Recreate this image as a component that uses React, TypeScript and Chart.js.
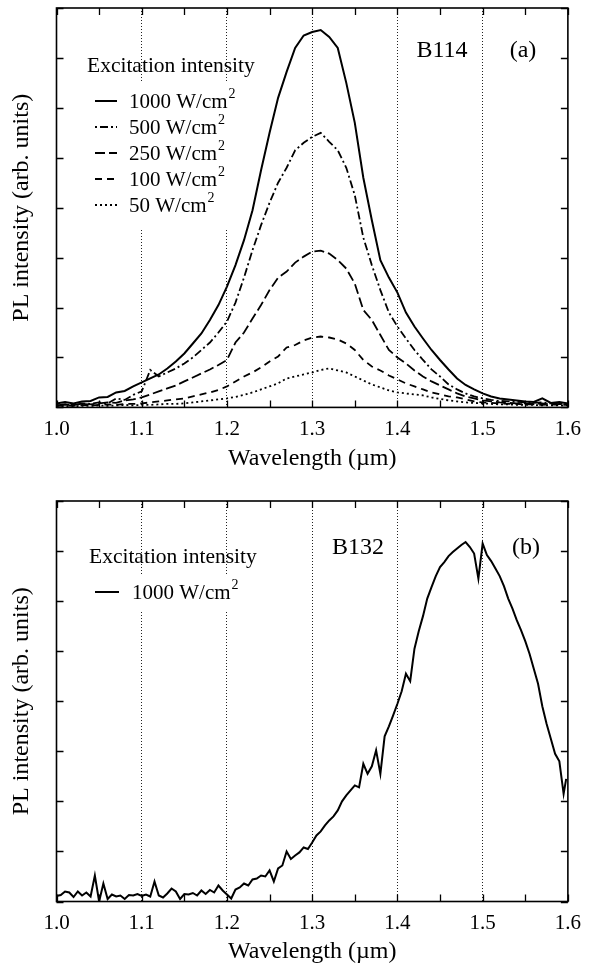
import React, { useEffect, useRef } from 'react';
import { Chart, registerables } from 'chart.js';

Chart.register(...registerables);

const FONT = "'Liberation Serif', 'Times New Roman', Times, serif";

// ---------- Panel (a): B114 ----------
const wavelengthA = [
  1.00, 1.01, 1.02, 1.03, 1.04, 1.05, 1.06, 1.07, 1.08, 1.09,
  1.10, 1.11, 1.12, 1.13, 1.14, 1.15, 1.16, 1.17, 1.18, 1.19,
  1.20, 1.21, 1.22, 1.23, 1.24, 1.25, 1.26, 1.27, 1.28, 1.29,
  1.30, 1.31, 1.32, 1.33, 1.34, 1.35, 1.36, 1.37, 1.38, 1.39,
  1.40, 1.41, 1.42, 1.43, 1.44, 1.45, 1.46, 1.47, 1.48, 1.49,
  1.50, 1.51, 1.52, 1.53, 1.54, 1.55, 1.56, 1.57, 1.58, 1.59,
  1.60,
];
const pl1000A = [
  0.08, 0.11, 0.08, 0.12, 0.13, 0.20, 0.21, 0.30, 0.33, 0.42,
  0.50, 0.58, 0.66, 0.78, 0.92, 1.08, 1.28, 1.48, 1.75, 2.05,
  2.42, 2.85, 3.35, 3.95, 4.75, 5.50, 6.20, 6.72, 7.20, 7.45,
  7.52, 7.56, 7.42, 7.20, 6.50, 5.70, 4.60, 3.75, 2.95, 2.60,
  2.30, 1.90, 1.62, 1.38, 1.15, 0.95, 0.76, 0.58, 0.45, 0.36,
  0.28, 0.22, 0.18, 0.16, 0.14, 0.12, 0.11, 0.18, 0.09, 0.11,
  0.08,
];
const pl500A = [
  0.05, 0.06, 0.04, 0.08, 0.07, 0.10, 0.08, 0.18, 0.15, 0.25,
  0.32, 0.75, 0.62, 0.70, 0.78, 0.88, 1.00, 1.15, 1.30, 1.50,
  1.72, 2.10, 2.60, 3.15, 3.65, 4.10, 4.50, 4.80, 5.15, 5.30,
  5.42, 5.50, 5.32, 5.15, 4.80, 4.25, 3.40, 2.85, 2.35, 1.90,
  1.62, 1.38, 1.15, 0.95, 0.76, 0.62, 0.46, 0.36, 0.28, 0.22,
  0.18, 0.15, 0.13, 0.12, 0.11, 0.10, 0.09, 0.10, 0.08, 0.09,
  0.07,
];
const pl250A = [
  0.04, 0.06, 0.05, 0.07, 0.06, 0.08, 0.10, 0.09, 0.14, 0.16,
  0.20, 0.26, 0.32, 0.38, 0.44, 0.52, 0.60, 0.68, 0.76, 0.85,
  0.95, 1.30, 1.50, 1.78, 2.05, 2.35, 2.60, 2.72, 2.90, 3.02,
  3.12, 3.14, 3.08, 2.95, 2.78, 2.48, 1.95, 1.75, 1.45, 1.15,
  1.00, 0.88, 0.74, 0.62, 0.52, 0.44, 0.36, 0.28, 0.22, 0.18,
  0.14, 0.12, 0.10, 0.09, 0.08, 0.08, 0.07, 0.08, 0.06, 0.07,
  0.06,
];
const pl100A = [
  0.03, 0.04, 0.03, 0.05, 0.04, 0.05, 0.06, 0.05, 0.07, 0.07,
  0.08, 0.10, 0.12, 0.14, 0.16, 0.18, 0.22, 0.26, 0.30, 0.35,
  0.42, 0.52, 0.62, 0.70, 0.80, 0.92, 1.02, 1.20, 1.25, 1.34,
  1.40, 1.42, 1.40, 1.36, 1.28, 1.15, 0.95, 0.82, 0.74, 0.64,
  0.56, 0.48, 0.42, 0.36, 0.30, 0.26, 0.22, 0.20, 0.16, 0.12,
  0.10, 0.09, 0.08, 0.07, 0.07, 0.06, 0.06, 0.05, 0.06, 0.05,
  0.05,
];
const pl50A = [
  0.02, 0.03, 0.02, 0.03, 0.03, 0.04, 0.03, 0.04, 0.05, 0.04,
  0.05, 0.05, 0.06, 0.07, 0.07, 0.08, 0.10, 0.12, 0.14, 0.16,
  0.18, 0.21, 0.25, 0.30, 0.36, 0.42, 0.48, 0.58, 0.62, 0.66,
  0.70, 0.75, 0.78, 0.74, 0.70, 0.62, 0.54, 0.46, 0.40, 0.34,
  0.30, 0.28, 0.26, 0.24, 0.20, 0.17, 0.14, 0.12, 0.10, 0.09,
  0.08, 0.07, 0.06, 0.06, 0.05, 0.05, 0.05, 0.04, 0.04, 0.04,
  0.04,
];
const intensityLabelsA = ['1000 W/cm', '500 W/cm', '250 W/cm', '100 W/cm', '50 W/cm'];

// ---------- Panel (b): B132 ----------
const wavelengthB = [
  1.000, 1.005, 1.010, 1.015, 1.020, 1.025, 1.030, 1.035, 1.040, 1.045,
  1.050, 1.055, 1.060, 1.065, 1.070, 1.075, 1.080, 1.085, 1.090, 1.095,
  1.100, 1.105, 1.110, 1.115, 1.120, 1.125, 1.130, 1.135, 1.140, 1.145,
  1.150, 1.155, 1.160, 1.165, 1.170, 1.175, 1.180, 1.185, 1.190, 1.195,
  1.200, 1.205, 1.210, 1.215, 1.220, 1.225, 1.230, 1.235, 1.240, 1.245,
  1.250, 1.255, 1.260, 1.265, 1.270, 1.275, 1.280, 1.285, 1.290, 1.295,
  1.300, 1.305, 1.310, 1.315, 1.320, 1.325, 1.330, 1.335, 1.340, 1.345,
  1.350, 1.355, 1.360, 1.365, 1.370, 1.375, 1.380, 1.385, 1.390, 1.395,
  1.400, 1.405, 1.410, 1.415, 1.420, 1.425, 1.430, 1.435, 1.440, 1.445,
  1.450, 1.455, 1.460, 1.465, 1.470, 1.475, 1.480, 1.485, 1.490, 1.495,
  1.500, 1.505, 1.510, 1.515, 1.520, 1.525, 1.530, 1.535, 1.540, 1.545,
  1.550, 1.555, 1.560, 1.565, 1.570, 1.575, 1.580, 1.585, 1.590, 1.595,
  1.598,
];
const pl1000B = [
  0.11, 0.13, 0.20, 0.18, 0.09, 0.20, 0.12, 0.18, 0.10, 0.52,
  0.00, 0.36, 0.05, 0.14, 0.10, 0.12, 0.05, 0.13, 0.12, 0.15,
  0.11, 0.14, 0.10, 0.40, 0.12, 0.08, 0.16, 0.26, 0.20, 0.05,
  0.15, 0.14, 0.17, 0.12, 0.22, 0.15, 0.23, 0.18, 0.32, 0.22,
  0.14, 0.06, 0.24, 0.28, 0.36, 0.32, 0.44, 0.46, 0.52, 0.50,
  0.62, 0.40, 0.66, 0.72, 1.00, 0.85, 0.92, 0.98, 1.08, 1.05,
  1.18, 1.32, 1.40, 1.52, 1.62, 1.70, 1.82, 2.00, 2.12, 2.22,
  2.32, 2.28, 2.75, 2.55, 2.70, 3.02, 2.55, 3.30, 3.50, 3.72,
  3.95, 4.20, 4.55, 4.40, 5.05, 5.40, 5.70, 6.05, 6.28, 6.50,
  6.68, 6.78, 6.90, 6.98, 7.05, 7.12, 7.18, 7.08, 6.95, 6.45,
  7.15, 6.92, 6.80, 6.65, 6.50, 6.30, 6.05, 5.85, 5.62, 5.42,
  5.20, 4.95, 4.65, 4.35, 3.90, 3.55, 3.25, 2.95, 2.80, 2.15,
  2.45,
];
const intensityLabelsB = ['1000 W/cm'];

// ---------- Axes ----------
const xTickValues = [1.0, 1.1, 1.2, 1.3, 1.4, 1.5, 1.6];
const xTickLabels = ['1.0', '1.1', '1.2', '1.3', '1.4', '1.5', '1.6'];
const xTitle = 'Wavelength (\u00b5m)';
const yTitle = 'PL intensity (arb. units)';
const legendHeading = 'Excitation intensity';

const DASHES: number[][] = [[], [2, 3, 8, 3], [10, 4], [7, 5], [2, 3]];

type Decor = {
  headingX: number; headingY: number;
  rowX0: number; rowX1: number; textX: number; rowY0: number; rowGap: number;
  labels: string[];
  mask: [number, number, number, number];
  sample: string; sampleX: number; sampleY: number;
  tag: string; tagX: number; tagY: number;
};

function makeDecor(d: Decor) {
  return {
    id: 'decor',
    beforeDatasetsDraw(chart: any) {
      const ctx = chart.ctx as CanvasRenderingContext2D;
      ctx.save();
      ctx.fillStyle = '#fff';
      ctx.fillRect(d.mask[0], d.mask[1], d.mask[2], d.mask[3]);
      ctx.restore();
    },
    afterDatasetsDraw(chart: any) {
      const ctx = chart.ctx as CanvasRenderingContext2D;
      const a = chart.chartArea;
      const x = chart.scales.x;
      const y = chart.scales.y;
      ctx.save();
      // inward ticks
      ctx.strokeStyle = '#000';
      ctx.lineWidth = 1.3;
      ctx.setLineDash([]);
      ctx.beginPath();
      x.ticks.forEach((t: any) => {
        const px = Math.round(x.getPixelForValue(t.value)) + 0.5;
        ctx.moveTo(px, a.bottom); ctx.lineTo(px, a.bottom - 7);
        ctx.moveTo(px, a.top); ctx.lineTo(px, a.top + 7);
      });
      y.ticks.forEach((t: any) => {
        const py = Math.round(y.getPixelForValue(t.value)) + 0.5;
        ctx.moveTo(a.left, py); ctx.lineTo(a.left + 7, py);
        ctx.moveTo(a.right, py); ctx.lineTo(a.right - 7, py);
      });
      ctx.stroke();
      ctx.lineWidth = 1.6;
      ctx.strokeRect(a.left, a.top, a.right - a.left, a.bottom - a.top);

      // texts
      ctx.fillStyle = '#000';
      ctx.textBaseline = 'middle';
      ctx.textAlign = 'left';
      ctx.font = `21.5px ${FONT}`;
      ctx.fillText(legendHeading, d.headingX, d.headingY);
      d.labels.forEach((lab, i) => {
        const ry = d.rowY0 + i * d.rowGap;
        ctx.save();
        ctx.lineWidth = 2;
        ctx.setLineDash(DASHES[i]);
        ctx.beginPath();
        ctx.moveTo(d.rowX0, ry);
        ctx.lineTo(d.rowX1, ry);
        ctx.stroke();
        ctx.restore();
        ctx.font = `21px ${FONT}`;
        ctx.textBaseline = 'alphabetic';
        ctx.fillText(lab, d.textX, ry + 7);
        const w = ctx.measureText(lab).width;
        ctx.font = `14px ${FONT}`;
        ctx.fillText('2', d.textX + w + 1, ry - 3);
      });
      ctx.font = `24px ${FONT}`;
      ctx.textAlign = 'center';
      ctx.textBaseline = 'middle';
      ctx.fillText(d.sample, d.sampleX, d.sampleY);
      ctx.fillText(d.tag, d.tagX, d.tagY);
      ctx.restore();
    },
  };
}

function makeConfig(
  xs: number[], series: number[][], decor: Decor,
  padTop: number, xAxisHeight: number, xTitlePad: number,
) {
  const datasets = series.map((vals, i) => ({
    label: decor.labels[i] || '',
    data: xs.map((w, k) => ({ x: w, y: vals[k] })),
    borderColor: '#000',
    borderWidth: i === 0 ? 2 : 1.8,
    borderDash: DASHES[i],
    pointRadius: 0,
    tension: 0,
    fill: false,
  }));
  return {
    type: 'line' as const,
    data: { datasets },
    options: {
      responsive: false,
      devicePixelRatio: 1,
      animation: false as const,
      layout: { padding: { top: padTop, right: 16, left: 0, bottom: 0 } },
      plugins: { legend: { display: false }, tooltip: { enabled: false } },
      scales: {
        x: {
          type: 'linear' as const,
          min: 1.0,
          max: 1.6,
          ticks: {
            stepSize: 0.05,
            autoSkip: false,
            maxRotation: 0,
            padding: 9,
            color: '#000',
            font: { family: FONT, size: 21 },
            callback: (v: number) => {
              const idx = xTickValues.findIndex((t) => Math.abs(t - v) < 1e-6);
              return idx >= 0 ? xTickLabels[idx] : '';
            },
          },
          grid: {
            drawTicks: false,
            lineWidth: 1,
            color: (c: any) => {
              const v = c.tick ? c.tick.value : 0;
              const k = Math.round(v * 100);
              return k % 10 === 0 && k > 100 && k < 160 ? '#222' : 'rgba(0,0,0,0)';
            },
          },
          border: { display: false, dash: [1, 2] },
          title: {
            display: true,
            text: xTitle,
            color: '#000',
            font: { family: FONT, size: 24 },
            padding: { top: 0, bottom: xTitlePad },
          },
          afterFit: (s: any) => { s.height = xAxisHeight; },
        },
        y: {
          type: 'linear' as const,
          min: 0,
          max: 8,
          ticks: { display: false, stepSize: 1 },
          grid: { display: false },
          border: { display: false },
          title: {
            display: true,
            text: yTitle,
            color: '#000',
            font: { family: FONT, size: 24 },
            padding: { top: 7, bottom: 0 },
          },
          afterFit: (s: any) => { s.width = 56.5; },
        },
      },
    },
    plugins: [makeDecor(decor)],
  };
}

function Panel({ config, top, height }: { config: any; top: number; height: number }) {
  const ref = useRef<HTMLCanvasElement>(null);
  useEffect(() => {
    if (!ref.current) return;
    const chart = new Chart(ref.current, config);
    return () => chart.destroy();
  }, [config]);
  return (
    <canvas
      ref={ref}
      width={590}
      height={height}
      style={{ position: 'absolute', left: 0, top, width: 590, height, display: 'block' }}
    />
  );
}

const configA = makeConfig(
  wavelengthA,
  [pl1000A, pl500A, pl250A, pl100A, pl50A],
  {
    headingX: 87, headingY: 66,
    rowX0: 95, rowX1: 117, textX: 129, rowY0: 101, rowGap: 26,
    labels: intensityLabelsA,
    mask: [90, 82, 150, 148],
    sample: 'B114', sampleX: 442, sampleY: 51,
    tag: '(a)', tagX: 523, tagY: 51,
  },
  8, 74.6, 8.5,
);

const configB = makeConfig(
  wavelengthB,
  [pl1000B],
  {
    headingX: 89, headingY: 75,
    rowX0: 95, rowX1: 119, textX: 132, rowY0: 110, rowGap: 26,
    labels: intensityLabelsB,
    mask: [90, 93, 150, 37],
    sample: 'B132', sampleX: 358, sampleY: 66,
    tag: '(b)', tagX: 526, tagY: 66,
  },
  19, 62.5, -2.4,
);

export default function App() {
  return (
    <div style={{ position: 'absolute', left: 0, top: 0, width: 590, height: 964, background: '#fff' }}>
      <Panel config={configA} top={0} height={482} />
      <Panel config={configB} top={482} height={482} />
    </div>
  );
}
